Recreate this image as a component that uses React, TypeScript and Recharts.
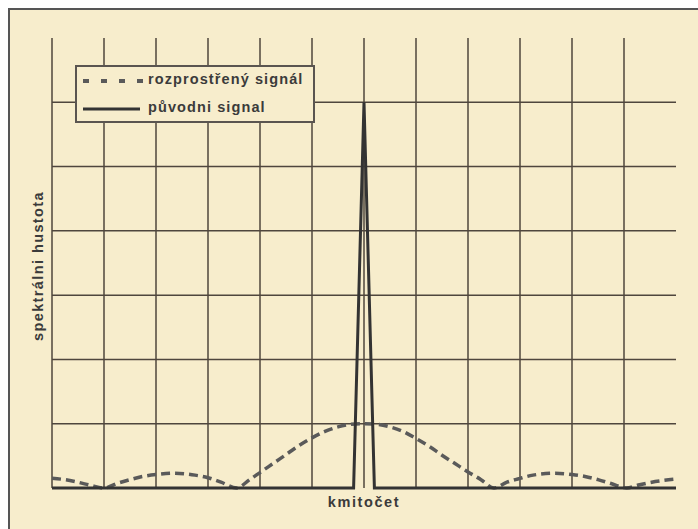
import { Line, LineChart, ReferenceLine, XAxis, YAxis } from "recharts";

// x in grid units (0..12), y in grid units (0..7)
const spreadX = [
  0, 0.25, 0.5, 0.75, 1.0, 1.25, 1.5, 1.75, 2.0, 2.33, 2.75, 3.0, 3.25, 3.55,
  3.8, 4.0, 4.25, 4.5, 4.75, 5.0, 5.25, 5.5, 5.75, 6.0, 6.25, 6.5, 6.75, 7.0,
  7.25, 7.5, 7.75, 8.0, 8.25, 8.5, 8.75, 9.0, 9.25, 9.67, 10.0, 10.25, 10.5,
  10.75, 11.05, 11.3, 11.6, 12.0,
];
const spreadY = [
  0.15, 0.13, 0.09, 0.04, 0.0, 0.07, 0.13, 0.18, 0.21, 0.23, 0.2, 0.16, 0.09, 0.0,
  0.13, 0.24, 0.38, 0.52, 0.66, 0.78, 0.88, 0.95, 0.99, 1.0, 0.99, 0.95, 0.88, 0.77,
  0.65, 0.51, 0.38, 0.25, 0.13, 0.0, 0.09, 0.15, 0.2, 0.23, 0.21, 0.18, 0.13,
  0.07, 0.0, 0.05, 0.1, 0.14,
];

const originalX = [0, 5.8, 6.0, 6.2, 12];
const originalY = [0, 0, 6, 0, 0];

const xTicks = [0, 1, 2, 3, 4, 5, 6, 7, 8, 9, 10, 11];
const yTicks = [1, 2, 3, 4, 5, 6];

const spreadData = spreadX.map((x, i) => ({ x, v: spreadY[i] }));
const originalData = originalX.map((x, i) => ({ x, v: originalY[i] }));

const FONT = '"Liberation Sans", Arial, sans-serif';
const TEXT = "#3b3b3b";
const GRID = "#4f463d";

function LegendBox() {
  return (
    <div
      style={{
        position: "absolute",
        left: 65,
        top: 55,
        width: 240,
        height: 58,
        boxSizing: "border-box",
        border: "2px solid #5a5550",
        background: "#f7edcc",
        fontFamily: FONT,
        fontWeight: "bold",
        fontSize: 14.5,
        color: TEXT,
        letterSpacing: 1.1,
      }}
    >
      <svg width={70} height={54} style={{ position: "absolute", left: 0, top: 0 }}>
        <line x1={6} y1={14} x2={70} y2={14} stroke="#5a5a5a" strokeWidth={4} strokeDasharray="6 12" />
        <line x1={6} y1={42} x2={63} y2={42} stroke="#333" strokeWidth={3} />
      </svg>
      <span style={{ position: "absolute", left: 71, top: 4 }}>rozprostřený signál</span>
      <span style={{ position: "absolute", left: 71, top: 32 }}>původni signal</span>
    </div>
  );
}

export default function App() {
  return (
    <div
      style={{
        position: "absolute",
        left: 8,
        top: 8,
        width: 690,
        height: 521,
        boxSizing: "border-box",
        borderTop: "2px solid #555",
        borderLeft: "2px solid #555",
        background: "#f7edcc",
      }}
    >
      <LineChart width={688} height={519} margin={{ top: 28, right: 22, bottom: 41, left: 42 }}>
        <XAxis dataKey="x" type="number" domain={[0, 12]} hide />
        <YAxis type="number" domain={[0, 7]} hide />
        {xTicks.map((t) => (
          <ReferenceLine key={`vx${t}`} x={t} stroke={GRID} strokeWidth={1.5} />
        ))}
        {yTicks.map((t) => (
          <ReferenceLine key={`hy${t}`} y={t} stroke={GRID} strokeWidth={1.5} />
        ))}
        <Line
          data={spreadData}
          dataKey="v"
          type="monotone"
          stroke="#5a5a5a"
          strokeWidth={3.5}
          strokeDasharray="9 5"
          dot={false}
          isAnimationActive={false}
        />
        <Line
          data={originalData}
          dataKey="v"
          type="linear"
          stroke="#333"
          strokeWidth={3}
          dot={false}
          isAnimationActive={false}
        />
      </LineChart>
      <LegendBox />
      <span
        style={{
          position: "absolute",
          left: 354,
          top: 492,
          transform: "translate(-50%, -50%)",
          fontFamily: FONT,
          fontWeight: "bold",
          fontSize: 14.5,
          letterSpacing: 1.6,
          color: TEXT,
          whiteSpace: "nowrap",
        }}
      >
        kmitočet
      </span>
      <span
        style={{
          position: "absolute",
          left: 28,
          top: 256,
          transform: "translate(-50%, -50%) rotate(-90deg)",
          fontFamily: FONT,
          fontWeight: "bold",
          fontSize: 14.5,
          letterSpacing: 1.4,
          color: TEXT,
          whiteSpace: "nowrap",
        }}
      >
        spektrálni hustota
      </span>
    </div>
  );
}
